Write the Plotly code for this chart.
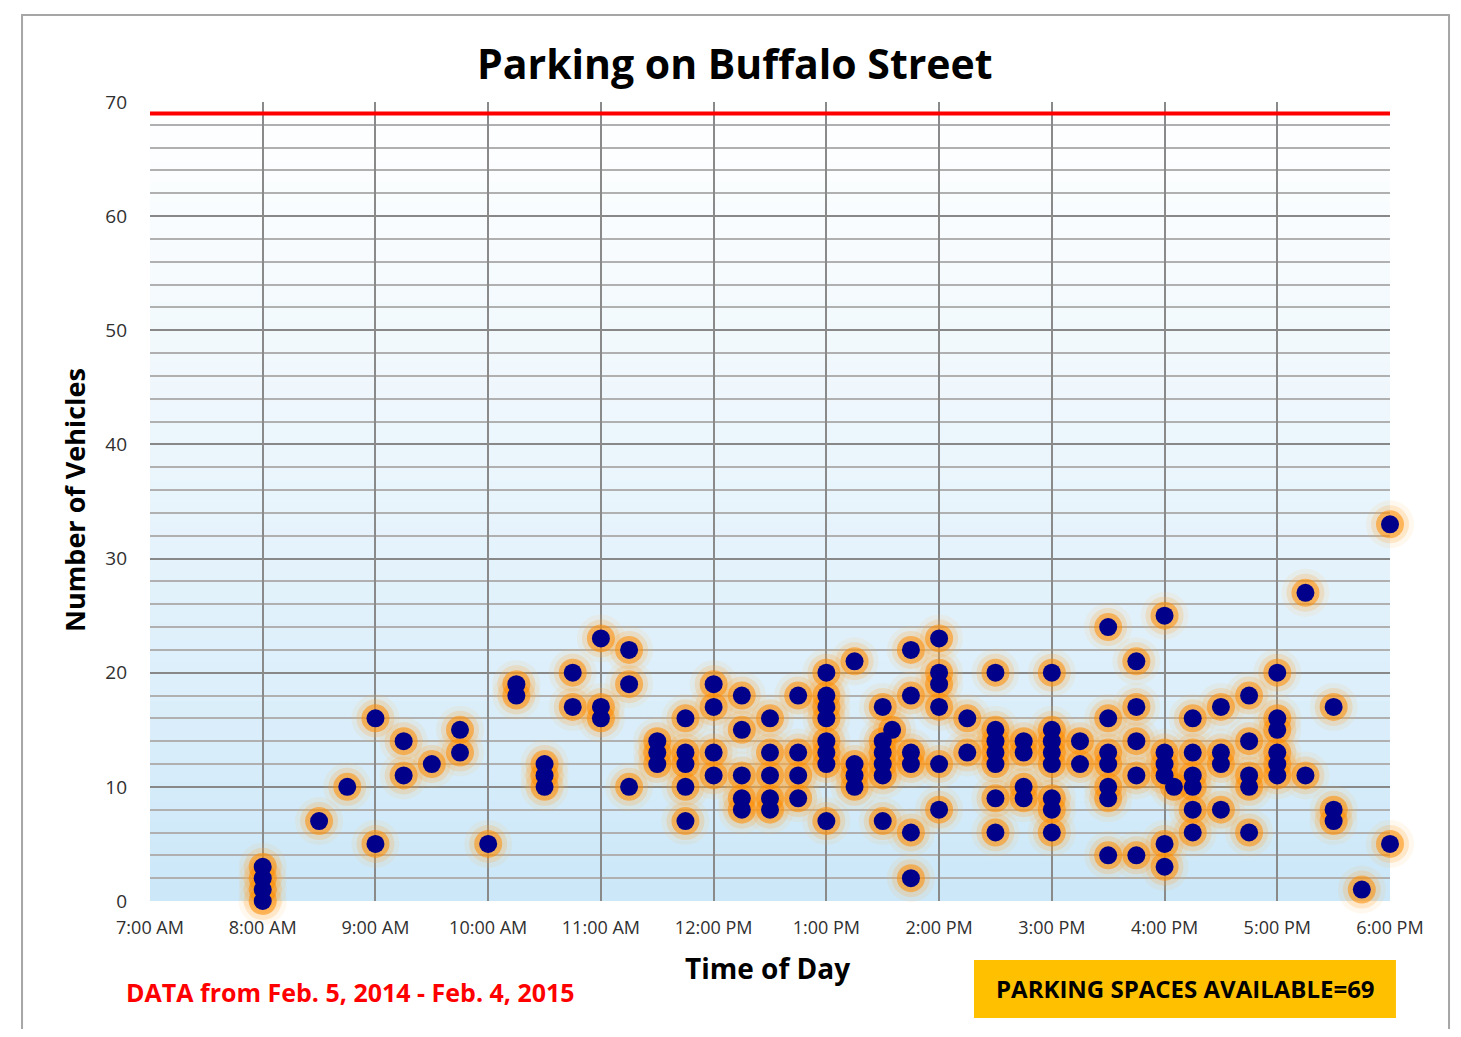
import plotly.graph_objects as go

# ---------------- data ----------------
capacity = 69
tick_labels = ["7:00 AM", "8:00 AM", "9:00 AM", "10:00 AM", "11:00 AM", "12:00 PM",
               "1:00 PM", "2:00 PM", "3:00 PM", "4:00 PM", "5:00 PM", "6:00 PM"]
tick_hours = [7, 8, 9, 10, 11, 12, 13, 14, 15, 16, 17, 18]

obs_time = (["8:00"] * 4 + ["8:30", "8:45"] + ["9:00"] * 2 + ["9:15"] * 2 + ["9:30"] +
            ["9:45"] * 2 + ["10:00"] + ["10:15"] * 2 + ["10:30"] * 3 + ["10:45"] * 2 +
            ["11:00"] * 3 + ["11:15"] * 3 + ["11:30"] * 3 + ["11:45"] * 5 + ["12:00"] * 4 +
            ["12:15"] * 5 + ["12:30"] * 5 + ["12:45"] * 4 + ["13:00"] * 8 + ["13:15"] * 4 +
            ["13:30"] * 6 + ["13:35"] + ["13:45"] * 6 + ["14:00"] * 6 + ["14:15"] * 2 +
            ["14:30"] * 7 + ["14:45"] * 4 + ["15:00"] * 8 + ["15:15"] * 2 + ["15:30"] * 7 +
            ["15:45"] * 5 + ["16:00"] * 6 + ["16:05"] + ["16:15"] * 6 + ["16:30"] * 4 +
            ["16:45"] * 5 + ["17:00"] * 6 + ["17:15"] * 2 + ["17:30"] * 3 + ["17:45"] +
            ["18:00"] * 2)

obs_count = ([3, 2, 1, 0] + [7, 10] + [16, 5] + [14, 11] + [12] +
             [15, 13] + [5] + [19, 18] + [12, 11, 10] + [20, 17] +
             [23, 17, 16] + [22, 19, 10] + [14, 13, 12] + [16, 13, 12, 10, 7] + [19, 17, 13, 11] +
             [18, 15, 11, 9, 8] + [16, 13, 11, 9, 8] + [18, 13, 11, 9] + [20, 18, 17, 16, 14, 13, 12, 7] +
             [21, 12, 11, 10] + [17, 14, 13, 12, 11, 7] + [15] + [22, 18, 13, 12, 6, 2] +
             [23, 20, 19, 17, 12, 8] + [16, 13] + [20, 15, 14, 13, 12, 9, 6] + [14, 13, 10, 9] +
             [20, 15, 14, 13, 12, 9, 8, 6] + [14, 12] + [24, 16, 13, 12, 10, 9, 4] +
             [21, 17, 14, 11, 4] + [25, 13, 12, 11, 5, 3] + [10] + [16, 13, 11, 10, 8, 6] +
             [17, 13, 12, 8] + [18, 14, 11, 10, 6] + [20, 16, 15, 13, 12, 11] + [27, 11] +
             [17, 8, 7] + [1] + [33, 5])


def to_hours(t):
    h, m = t.split(":")
    return int(h) + int(m) / 60.0


x_hours = [to_hours(t) for t in obs_time]

FONT = "Open Sans"

fig = go.Figure()

# glow layers
for size, col in [(48, "rgba(255,185,90,0.10)"), (38, "rgba(255,165,50,0.20)"),
                  (28, "rgba(255,140,0,0.55)")]:
    fig.add_trace(go.Scatter(x=x_hours, y=obs_count, mode="markers", cliponaxis=False,
                             marker=dict(size=size, color=col, line=dict(width=0)),
                             hoverinfo="skip", showlegend=False))

fig.add_trace(go.Scatter(x=x_hours, y=obs_count, mode="markers", cliponaxis=False,
                         marker=dict(size=18, color="#00008B", line=dict(width=0)),
                         showlegend=False, name="Vehicles"))

# capacity line (on overlay axis that also carries the hour gridlines)
fig.add_trace(go.Scatter(x=[tick_hours[0], tick_hours[-1]], y=[capacity, capacity],
                         mode="lines", line=dict(color="#FF0000", width=4), xaxis="x2",
                         showlegend=False, hoverinfo="skip"))

shapes = []
# vertical gradient background
n = 40
top = (255, 255, 255)
bot = (201, 230, 248)
for i in range(n):
    f = (i + 0.5) / n  # 0 at bottom
    w = f ** 0.8
    c = tuple(int(round(bot[k] + (top[k] - bot[k]) * w)) for k in range(3))
    shapes.append(dict(type="rect", xref="x domain", yref="y domain",
                       x0=0, x1=1, y0=i / n, y1=(i + 1) / n + 0.002,
                       fillcolor="rgb(%d,%d,%d)" % c, line=dict(width=0), layer="below"))

# outer border
shapes.append(dict(type="rect", xref="paper", yref="paper",
                   x0=-0.1032, x1=1.0476, y0=-0.178, y1=1.1089,
                   line=dict(color="#a6a6a6", width=2), fillcolor="rgba(0,0,0,0)"))
# yellow box
shapes.append(dict(type="rect", xref="paper", yref="paper",
                   x0=0.6645, x1=1.0048, y0=-0.1464, y1=-0.0738,
                   line=dict(width=0), fillcolor="#FFC000"))

annotations = [
    dict(text="<b>Parking on Buffalo Street</b>", xref="paper", yref="paper",
         x=0.4714, y=1.0488, showarrow=False, xanchor="center", yanchor="middle",
         font=dict(family=FONT, size=41, color="#000000")),
    dict(text="<b>Number of Vehicles</b>", xref="paper", yref="paper",
         x=-0.0605, y=0.502, showarrow=False, textangle=-90,
         xanchor="center", yanchor="middle",
         font=dict(family=FONT, size=27, color="#000000")),
    dict(text="<b>Time of Day</b>", xref="paper", yref="paper",
         x=0.498, y=-0.0839, showarrow=False, xanchor="center", yanchor="middle",
         font=dict(family=FONT, size=28, color="#000000")),
    dict(text="<b>DATA from Feb. 5, 2014 - Feb. 4, 2015</b>", xref="paper", yref="paper",
         x=-0.021, y=-0.1139, showarrow=False, xanchor="left", yanchor="middle",
         font=dict(family=FONT, size=25, color="#FF0000")),
    dict(text="<b>PARKING SPACES AVAILABLE=%d</b>" % capacity, xref="paper", yref="paper",
         x=0.8347, y=-0.1101, showarrow=False, xanchor="center", yanchor="middle",
         font=dict(family=FONT, size=24, color="#000000")),
]

fig.update_layout(
    width=1445, height=1021,
    margin=dict(l=142, r=63, t=94, b=128),
    paper_bgcolor="white", plot_bgcolor="white",
    shapes=shapes, annotations=annotations,
    xaxis=dict(range=[tick_hours[0], tick_hours[-1]], tickvals=tick_hours, ticktext=tick_labels,
               showgrid=False, zeroline=False,
               showline=False, ticks="", ticklabelstandoff=14,
               tickfont=dict(family=FONT, size=18, color="#303030")),
    xaxis2=dict(range=[tick_hours[0], tick_hours[-1]], overlaying="x", side="bottom",
                tickvals=tick_hours[1:], showticklabels=False, ticks="",
                showgrid=True, gridcolor="#8a8a8a", gridwidth=1.5, zeroline=False,
                showline=False),
    yaxis=dict(range=[0, 70], dtick=10, showgrid=True, gridcolor="#888888", gridwidth=2,
               zeroline=False, showline=False, ticks="", ticklabelstandoff=22,
               tickfont=dict(family=FONT, size=19, color="#303030"),
               minor=dict(dtick=2, showgrid=True, gridcolor="#b0b0b0", gridwidth=1.5)),
    hovermode="closest",
)

fig.write_html("out.html")
